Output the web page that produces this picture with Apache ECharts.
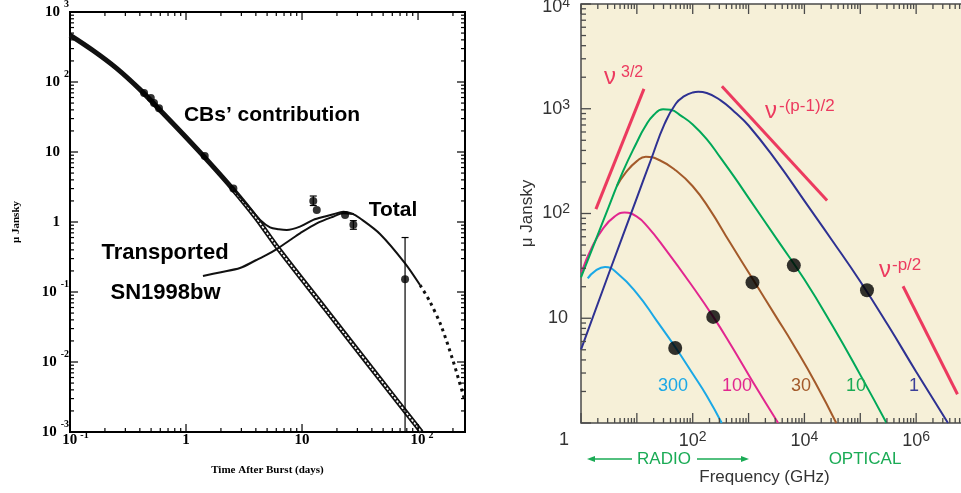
<!DOCTYPE html>
<html>
<head>
<meta charset="utf-8">
<script src="https://cdn.jsdelivr.net/npm/echarts@6/dist/echarts.min.js"></script>
<style>
html, body { margin: 0; padding: 0; background: #fff; }
#chart { width: 961px; height: 493px; }
</style>
</head>
<body>
<div id="chart"></div>
<script>
// ---- left panel: afterglow light curve (days, micro Jansky) ----
const cbTime = [0.1, 0.158, 0.251, 0.398, 0.631, 1, 1.585, 2.51, 3.98, 6.31, 15.85, 39.8, 107];
const cbFlux = [468, 282, 158, 79, 36, 16.2, 7.1, 3.0, 1.17, 0.407, 0.0575, 0.0081, 0.001];

const snTime = [1.40, 2.0, 2.92, 4.0, 4.95, 6.05, 7.89, 9.6, 13.4, 18.5, 22.7, 28];
const snFlux = [0.169, 0.192, 0.22, 0.284, 0.339, 0.41, 0.553, 0.689, 0.957, 1.19, 1.33, 1.3];

const totalTime = [2.51, 2.92, 3.55, 4.35, 5.3, 6.3, 7.38, 9.6, 12.5, 15.8, 18.6, 22.7, 27, 31.6, 47, 77.3, 104, 126, 158, 200, 240, 254];
const totalFlux = [3.02, 2.29, 1.58, 1.07, 0.84, 0.79, 0.77, 0.86, 1.07, 1.2, 1.29, 1.40, 1.32, 1.13, 0.675, 0.257, 0.126, 0.074, 0.033, 0.0105, 0.0038, 0.00275];
const tailStart = 16; // total curve turns sparse (dotted) from here

const obsTime = [0.435, 0.497, 0.53, 0.585, 1.45, 2.56, 12.5, 13.4, 23.5, 27.7, 77.3];
const obsFlux = [69.7, 59, 50, 42, 8.8, 3.0, 2.0, 1.48, 1.26, 0.91, 0.152];
const errTime = [12.5, 27.7, 77.3];
const errLow = [1.72, 0.787, 0.0005];
const errHigh = [2.35, 1.045, 0.6];

// ---- right panel: spectra at 1, 10, 30, 100, 300 days (GHz, micro Jansky) ----
const freq1 = [1, 3.16, 10, 17.8, 31.6, 50.1, 70.8, 100, 126, 178, 316, 562, 1000, 3162, 10000, 31623, 100000, 316228, 1e6, 3715352];
const flux1 = [5.01, 26.9, 141, 324, 724, 1122, 1318, 1429, 1452, 1413, 1202, 933, 692, 316, 132, 55, 22.4, 8.51, 3.09, 1.0];
const freq10 = [1, 1.78, 3.16, 5.62, 10, 14.1, 20, 29.5, 39.8, 63.1, 100, 178, 316, 562, 1000, 3162, 10000, 31623, 100000, 295121];
const flux10 = [24.5, 53.7, 117, 251, 479, 676, 871, 989, 977, 851, 708, 513, 339, 221, 141, 57.5, 23.4, 8.51, 2.88, 1.0];
const freq30 = [4.37, 6.31, 10, 14.5, 25.1, 50.1, 100, 200, 468, 1202, 3162, 6310, 15849, 37154];
const flux30 = [182, 245, 316, 348, 324, 257, 182, 110, 52.5, 23.4, 10.2, 5.62, 2.4, 1.0];
const freq100 = [1.02, 1.58, 2.51, 3.98, 6.03, 10, 15.8, 31.6, 100, 234, 501, 1202, 3388];
const flux100 = [27.5, 47.9, 72.4, 93.3, 102, 93.3, 74.1, 46.5, 20, 10.3, 5.37, 2.45, 1.0];
const freq300 = [1.32, 1.78, 2.69, 4.47, 10, 22.4, 47.9, 100, 178, 331];
const flux300 = [24, 28.2, 30.9, 26.9, 17.3, 9.55, 5.37, 2.95, 1.82, 1.0];

const specFreq = [48.6, 233, 1175, 6457, 131826];
const specFlux = [5.2, 10.3, 22, 32, 18.5];

const riseFreq = [1.85, 13.4];
const riseFlux = [110, 1549];
const fallFreq = [333, 25468];
const fallFlux = [1641, 133];
const cutFreq = [583000, 5495000];
const cutFlux = [20.2, 1.88];

const zip = (a, b) => a.map((v, i) => [v, b[i]]);

// tick marks at 1..9 x 10^k, drawn through the axis scales
function logTicks(lo, hi, dim, other) {
    const out = [];
    for (let e = Math.floor(Math.log10(lo)); e <= Math.ceil(Math.log10(hi)); e++) {
        for (let m = 1; m <= 9; m++) {
            const v = m * Math.pow(10, e);
            if (v < lo * 0.999 || v > hi * 1.001) continue;
            out.push(dim === 'x' ? [v, other, m === 1 ? 0 : 1] : [other, v, m === 1 ? 2 : 3]);
        }
    }
    return out;
}

function tickRenderer(majorLen, minorLen, color, width, sides) {
    return function (params, api) {
        const cs = params.coordSys;
        const kind = api.value(2);
        const p = api.coord([api.value(0), api.value(1)]);
        const l = kind % 2 === 0 ? majorLen : minorLen;
        const style = { stroke: color, lineWidth: width };
        const children = [];
        if (kind < 2) {
            const x = p[0];
            const b = cs.y + cs.height;
            children.push({ type: 'line', shape: { x1: x, y1: b, x2: x, y2: b - l }, style });
            if (sides.top) children.push({ type: 'line', shape: { x1: x, y1: cs.y, x2: x, y2: cs.y + l }, style });
        } else {
            const y = p[1];
            children.push({ type: 'line', shape: { x1: cs.x, y1: y, x2: cs.x + l, y2: y }, style });
            if (sides.right) {
                const r = cs.x + cs.width;
                children.push({ type: 'line', shape: { x1: r, y1: y, x2: r - l, y2: y }, style });
            }
        }
        return { type: 'group', children };
    };
}

const serif = 'Liberation Serif';
const sans = 'Liberation Sans';
const expo = v => Math.round(Math.log10(v));

// left panel labels: bold serif "10" with raised exponent
const leftRich = {
    b: { fontFamily: serif, fontWeight: 'bold', fontSize: 15, lineHeight: 15, color: '#000' },
    s: { fontFamily: serif, fontWeight: 'bold', fontSize: 10, lineHeight: 10, padding: [0, 0, 15, 4], color: '#000' },
    sx: { fontFamily: serif, fontWeight: 'bold', fontSize: 10, lineHeight: 10, padding: [0, 0, 10, 3], color: '#000' },
    sp: { width: 9 },
    lsp: { width: 11 },
    lsp2: { width: 8 }
};
function leftYLabel(v) {
    const e = expo(v);
    if (e === 0) return '{b|1}{sp|}';
    if (e === 1) return '{b|10}{sp|}';
    return '{b|10}{s|' + e + '}';
}
function leftXLabel(v) {
    const e = expo(v);
    if (Math.abs(Math.log10(v) - e) > 0.01) return '';
    if (e === 0) return '{b|1}';
    if (e === 1) return '{b|10}';
    return (e < 0 ? '{lsp|}' : '{lsp2|}') + '{b|10}{sx|' + e + '}';
}

// right panel labels
const rightRich = {
    b: { fontFamily: sans, fontSize: 18, lineHeight: 18, color: '#333' },
    s: { fontFamily: sans, fontSize: 14, lineHeight: 14, padding: [0, 0, 8, 0], color: '#333' },
    bt: { fontFamily: sans, fontSize: 18, lineHeight: 18, padding: [7, 0, 0, 0], color: '#333' },
    st: { fontFamily: sans, fontSize: 14, lineHeight: 14, padding: [7, 0, 8, 0], color: '#333' },
    low: { fontFamily: sans, fontSize: 18, lineHeight: 18, padding: [34, 1, 0, 0], color: '#333' },
    sp: { width: 2 }
};
function rightYLabel(v) {
    const e = expo(v);
    if (e === 0) return '{low|1}';
    if (e === 1) return '{b|10}{sp|}';
    if (e === 4) return '{bt|10}{st|4}';
    return '{b|10}{s|' + e + '}';
}
function rightXLabel(v) {
    const e = expo(v);
    if (e === 0 || e % 2 === 1) return '';
    return '{b|10}{s|' + e + '}';
}

const navy = '#2e3192', green = '#00a859', brown = '#a35a2a', magenta = '#e2268f', cyan = '#1aa8e6', rose = '#ec3a5f';
const labelGreen = '#1aab55';

const curve = (name, f, s, color) => ({
    name, type: 'line', xAxisIndex: 1, yAxisIndex: 1,
    data: zip(f, s), showSymbol: false, smooth: 0.5,
    lineStyle: { color, width: 2 }, z: 3
});
const guide = (f, s) => ({
    type: 'line', xAxisIndex: 1, yAxisIndex: 1, data: zip(f, s), showSymbol: false,
    lineStyle: { color: rose, width: 3 }, z: 3
});

const chart = echarts.init(document.getElementById('chart'), null, { renderer: 'canvas' });

const txt = (x, y, text, font, fill, align) => ({
    type: 'text', x, y, z: 20,
    style: { text, font, fill, textAlign: align || 'center', textVerticalAlign: 'middle' }
});

const option = {
    animation: false,
    backgroundColor: '#fff',
    grid: [
        { left: 70, top: 12, width: 395, height: 420, show: true, borderColor: '#000', borderWidth: 2, backgroundColor: 'transparent', outerBoundsMode: 'none' },
        { left: 581, top: 4, width: 391, height: 419, show: true, borderColor: '#4a4a4a', borderWidth: 1.5, backgroundColor: '#f6f0d8', outerBoundsMode: 'none' }
    ],
    xAxis: [
        {
            type: 'log', gridIndex: 0, min: 0.1, max: 254,
            axisLine: { show: false }, axisTick: { show: false }, splitLine: { show: false },
            axisLabel: { formatter: leftXLabel, rich: leftRich, margin: 8, verticalAlign: 'middle', showMaxLabel: false },
            name: 'Time After Burst (days)', nameLocation: 'middle', nameGap: 33,
            nameTextStyle: { fontFamily: serif, fontWeight: 'bold', fontSize: 11, color: '#000' }
        },
        {
            type: 'log', gridIndex: 1, min: 1, max: 1e7,
            axisLine: { show: false }, axisTick: { show: false }, splitLine: { show: false },
            axisLabel: { formatter: rightXLabel, rich: rightRich, margin: 18, verticalAlign: 'middle' }
        }
    ],
    yAxis: [
        {
            type: 'log', gridIndex: 0, min: 0.001, max: 1000,
            axisLine: { show: false }, axisTick: { show: false }, splitLine: { show: false },
            axisLabel: { formatter: leftYLabel, rich: leftRich, margin: 1 },
            name: 'μ Jansky', nameLocation: 'middle', nameGap: 48, nameRotate: 90,
            nameTextStyle: { fontFamily: serif, fontWeight: 'bold', fontSize: 11, color: '#000' }
        },
        {
            type: 'log', gridIndex: 1, min: 1, max: 10000,
            axisLine: { show: false }, axisTick: { show: false }, splitLine: { show: false },
            axisLabel: { formatter: rightYLabel, rich: rightRich, margin: 11 },
            name: 'μ Jansky', nameLocation: 'middle', nameGap: 45, nameRotate: 90,
            nameTextStyle: { fontFamily: sans, fontSize: 17, color: '#333' }
        }
    ],
    series: [
        // left ticks
        {
            type: 'custom', xAxisIndex: 0, yAxisIndex: 0, z: 5, silent: true,
            renderItem: tickRenderer(8, 4, '#000', 1.2, { top: true, right: true }),
            data: logTicks(0.1, 254, 'x', 0.001).concat(logTicks(0.001, 1000, 'y', 0.1))
        },
        // CBs' contribution: heavy chain of open squares
        {
            type: 'line', xAxisIndex: 0, yAxisIndex: 0, data: zip(cbTime, cbFlux),
            showSymbol: false, smooth: 0.3, lineStyle: { color: '#111', width: 5 }, z: 2
        },
        {
            type: 'line', xAxisIndex: 0, yAxisIndex: 0, data: zip(cbTime.slice(7), cbFlux.slice(7)),
            showSymbol: false, smooth: 0.3, lineStyle: { color: '#fff', width: 1.6, type: [2.5, 1.5] }, z: 2
        },
        // transported SN1998bw
        {
            type: 'line', xAxisIndex: 0, yAxisIndex: 0, data: zip(snTime, snFlux),
            showSymbol: false, smooth: 0.3, lineStyle: { color: '#111', width: 2 }, z: 3
        },
        // total
        {
            type: 'line', xAxisIndex: 0, yAxisIndex: 0,
            data: zip(totalTime.slice(0, tailStart + 1), totalFlux.slice(0, tailStart + 1)),
            showSymbol: false, smooth: 0.3, lineStyle: { color: '#111', width: 2 }, z: 3
        },
        {
            type: 'line', xAxisIndex: 0, yAxisIndex: 0,
            data: zip(totalTime.slice(tailStart), totalFlux.slice(tailStart)),
            showSymbol: false, smooth: 0.3, lineStyle: { color: '#111', width: 3, type: [3, 4] }, z: 3
        },
        // error bars
        {
            type: 'custom', xAxisIndex: 0, yAxisIndex: 0, z: 4, clip: true,
            data: errTime.map((t, i) => [t, errLow[i], errHigh[i]]),
            renderItem: function (params, api) {
                const lo = api.coord([api.value(0), api.value(1)]);
                const hi = api.coord([api.value(0), api.value(2)]);
                const st = { stroke: '#000', lineWidth: 1.2 };
                return {
                    type: 'group', children: [
                        { type: 'line', shape: { x1: lo[0], y1: lo[1], x2: hi[0], y2: hi[1] }, style: st },
                        { type: 'line', shape: { x1: hi[0] - 3.5, y1: hi[1], x2: hi[0] + 3.5, y2: hi[1] }, style: st },
                        { type: 'line', shape: { x1: lo[0] - 3.5, y1: lo[1], x2: lo[0] + 3.5, y2: lo[1] }, style: st }
                    ]
                };
            }
        },
        {
            type: 'scatter', xAxisIndex: 0, yAxisIndex: 0, data: zip(obsTime, obsFlux),
            symbolSize: 8, itemStyle: { color: '#000' }, z: 6
        },
        // right ticks
        {
            type: 'custom', xAxisIndex: 1, yAxisIndex: 1, z: 5, silent: true,
            renderItem: tickRenderer(10, 5, '#4a4a4a', 1.3, { top: true, right: false }),
            data: logTicks(1, 1e7, 'x', 1).concat(logTicks(1, 10000, 'y', 1))
        },
        curve('300', freq300, flux300, cyan),
        curve('100', freq100, flux100, magenta),
        curve('30', freq30, flux30, brown),
        curve('10', freq10, flux10, green),
        curve('1', freq1, flux1, navy),
        guide(riseFreq, riseFlux),
        guide(fallFreq, fallFlux),
        guide(cutFreq, cutFlux),
        {
            type: 'scatter', xAxisIndex: 1, yAxisIndex: 1, data: zip(specFreq, specFlux),
            symbolSize: 14, itemStyle: { color: '#000' }, z: 6
        }
    ],
    graphic: [
        txt(272, 115, 'CBs’ contribution', 'bold 21px "Liberation Sans"', '#000'),
        txt(393, 210, 'Total', 'bold 21px "Liberation Sans"', '#000'),
        txt(165, 253, 'Transported', 'bold 22px "Liberation Sans"', '#000'),
        txt(165.5, 293, 'SN1998bw', 'bold 22px "Liberation Sans"', '#000'),

        txt(604, 77, 'ν', '24px "Liberation Sans"', rose, 'left'),
        txt(621, 73, '3/2', '16px "Liberation Sans"', rose, 'left'),
        txt(765, 111, 'ν', '24px "Liberation Sans"', rose, 'left'),
        txt(779, 106, '-(p-1)/2', '17px "Liberation Sans"', rose, 'left'),
        txt(879, 270, 'ν', '24px "Liberation Sans"', rose, 'left'),
        txt(892, 265, '-p/2', '17px "Liberation Sans"', rose, 'left'),

        txt(673, 386, '300', '18px "Liberation Sans"', cyan),
        txt(737, 386, '100', '18px "Liberation Sans"', magenta),
        txt(801, 386, '30', '18px "Liberation Sans"', brown),
        txt(856, 386, '10', '18px "Liberation Sans"', labelGreen),
        txt(914, 386, '1', '18px "Liberation Sans"', '#3b3f99'),

        txt(664, 459, 'RADIO', '17px "Liberation Sans"', labelGreen),
        txt(865, 459, 'OPTICAL', '17px "Liberation Sans"', labelGreen),
        txt(764.5, 477, 'Frequency (GHz)', '17px "Liberation Sans"', '#333'),
        { type: 'line', z: 20, shape: { x1: 590, y1: 459, x2: 632, y2: 459 }, style: { stroke: labelGreen, lineWidth: 1.3 } },
        { type: 'polygon', z: 20, shape: { points: [[587, 459], [595, 456], [595, 462]] }, style: { fill: labelGreen } },
        { type: 'line', z: 20, shape: { x1: 697, y1: 459, x2: 745, y2: 459 }, style: { stroke: labelGreen, lineWidth: 1.3 } },
        { type: 'polygon', z: 20, shape: { points: [[749, 459], [741, 456], [741, 462]] }, style: { fill: labelGreen } }
    ]
};

chart.setOption(option);
</script>
</body>
</html>
